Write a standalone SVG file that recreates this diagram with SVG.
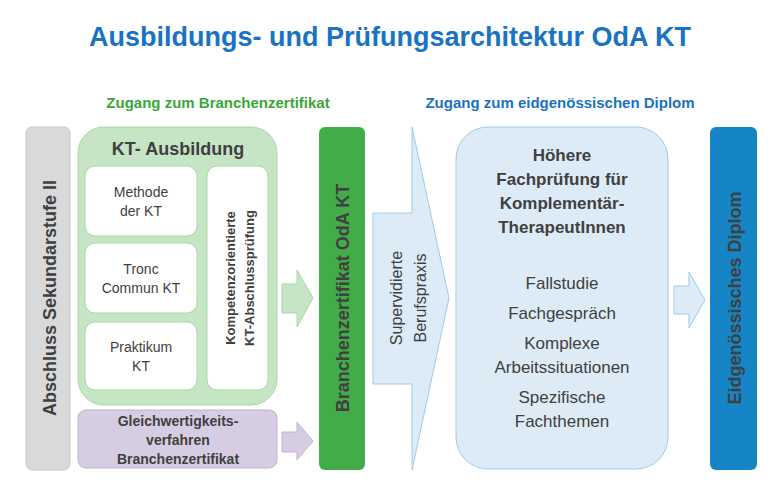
<svg xmlns="http://www.w3.org/2000/svg" width="780" height="496" viewBox="0 0 780 496">
<style>
text{font-family:"Liberation Sans",Arial,sans-serif;fill:#404040;text-anchor:middle}
.b{font-weight:bold}
.w{fill:#fff;stroke:#a9d8a9;stroke-width:1}
</style>
<rect width="780" height="496" fill="#fff"/>
<text x="390" y="46" class="b" font-size="27" style="fill:#1a72c0">Ausbildungs- und Prüfungsarchitektur OdA KT</text>
<text x="218" y="108" class="b" font-size="15" style="fill:#3aa63a">Zugang zum Branchenzertifikat</text>
<text x="560" y="108" class="b" font-size="15" style="fill:#1a72c0">Zugang zum eidgenössischen Diplom</text>
<g id="sek"><rect x="26" y="127" width="44" height="343" rx="6" fill="#d9d9d9" stroke="#c8c8c8"/>
<text transform="translate(56,298) rotate(-90)" class="b" font-size="18">Abschluss Sekundarstufe II</text></g>
<g id="kt"><rect x="78" y="127" width="199" height="278" rx="26" fill="#c5e5c5" stroke="#a9d8a9"/>
<text x="178" y="155" class="b" font-size="18">KT- Ausbildung</text></g>
<g id="methode"><rect class="w" x="85" y="166" width="112" height="70" rx="10"/><text x="141" y="197" font-size="14">Methode</text><text x="141" y="216" font-size="14">der KT</text></g>
<g id="tronc"><rect class="w" x="85" y="243" width="112" height="70" rx="10"/><text x="141" y="274" font-size="14">Tronc</text><text x="141" y="293" font-size="14">Commun KT</text></g>
<g id="praktikum"><rect class="w" x="85" y="322" width="112" height="68" rx="10"/><text x="141" y="352" font-size="14">Praktikum</text><text x="141" y="371" font-size="14">KT</text></g>
<g id="kompetenz"><rect class="w" x="207" y="166" width="61" height="224" rx="10"/>
<text transform="translate(235,278) rotate(-90)" class="b" font-size="13">Kompetenzorientierte</text>
<text transform="translate(254,278) rotate(-90)" class="b" font-size="13">KT-Abschlussprüfung</text></g>
<g id="gleich"><rect x="78" y="410" width="199" height="58" rx="8" fill="#d7cde3" stroke="#c0b3d3"/>
<text x="178" y="426" class="b" font-size="14">Gleichwertigkeits-</text><text x="178" y="445" class="b" font-size="14">verfahren</text><text x="178" y="464" class="b" font-size="14">Branchenzertifikat</text></g>
<g id="branchen"><rect x="319" y="127" width="46" height="343" rx="6" fill="#41ac48"/>
<text transform="translate(349,298) rotate(-90)" class="b" font-size="18">Branchenzertifikat OdA KT</text></g>
<g id="praxis"><polygon points="373,213 412,213 412,127 449,298 412,470 412,384 373,384" fill="#ddebf7" stroke="#9fcbe8"/>
<text transform="translate(402,298) rotate(-90)" font-size="16">Supervidierte</text>
<text transform="translate(426,298) rotate(-90)" font-size="16">Berufspraxis</text></g>
<g id="hfp"><rect x="456" y="127" width="212" height="342" rx="32" fill="#ddebf7" stroke="#9fcbe8"/>
<g class="b" font-size="17"><text x="562" y="161">Höhere</text><text x="562" y="185">Fachprüfung für</text><text x="562" y="209">Komplementär-</text><text x="562" y="233">TherapeutInnen</text></g>
<g font-size="17"><text x="562" y="289">Fallstudie</text><text x="562" y="319">Fachgespräch</text><text x="562" y="349">Komplexe</text><text x="562" y="373">Arbeitssituationen</text><text x="562" y="403">Spezifische</text><text x="562" y="427">Fachthemen</text></g></g>
<g id="diplom"><rect x="710" y="127" width="47" height="343" rx="6" fill="#1585c6"/>
<text transform="translate(741,298) rotate(-90)" class="b" font-size="18">Eidgenössisches Diplom</text></g>
<g id="connectors">
<polygon points="282,284 297,284 297,270 313,298 297,327 297,313 282,313" fill="#c5e5c5" stroke="#a9d8a9"/>
<polygon points="282,432 297,432 297,422 313,441 297,460 297,452 282,452" fill="#d7cde3" stroke="#c0b3d3"/>
<polygon points="674,286 689,286 689,272 705,300 689,328 689,314 674,314" fill="#ddebf7" stroke="#9fcbe8"/>
</g>
</svg>
